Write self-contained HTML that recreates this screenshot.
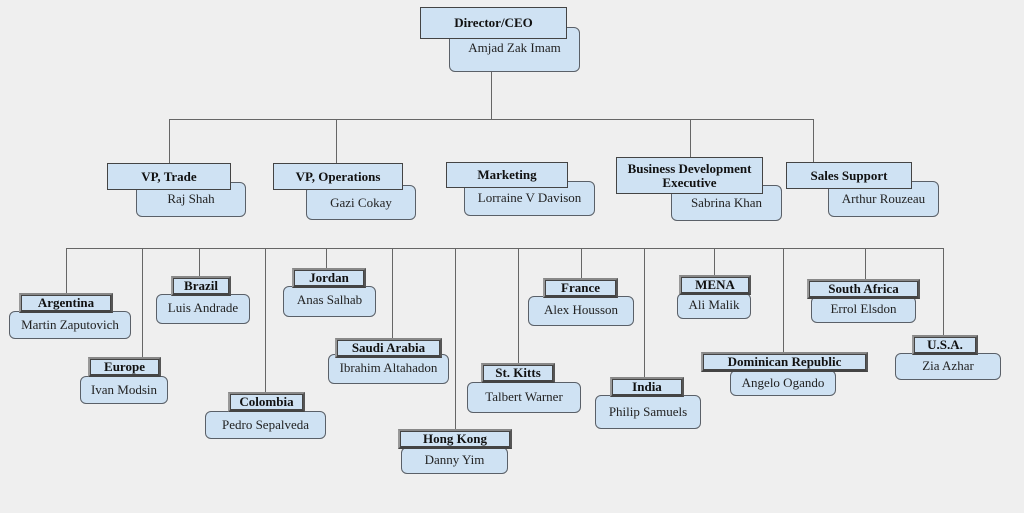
<!DOCTYPE html>
<html><head><meta charset="utf-8"><style>
body{margin:0;width:1024px;height:513px;background:#efefef;position:relative;overflow:hidden;font-family:"Liberation Serif",serif;}
.l{position:absolute;background:#666;}
.n{position:absolute;box-sizing:border-box;background:#cfe2f3;border:1.5px solid #5a6068;border-radius:6px;display:flex;align-items:flex-end;justify-content:center;font-size:13px;color:#222;}
.t{position:absolute;box-sizing:border-box;background:#cfe2f3;border:1.5px solid #444;display:flex;align-items:center;justify-content:center;font-weight:bold;font-size:13px;color:#111;text-align:center;line-height:14px;}
.c{border:2px solid #777;border-right-color:#555;border-bottom-color:#444;border-left-color:#999;border-top-color:#888;box-shadow:inset 0 0 0 1px #444;font-size:13px;}
</style></head><body>
<div class="l" style="left:491px;top:70px;width:1px;height:50px"></div>
<div class="l" style="left:169px;top:119px;width:645px;height:1px"></div>
<div class="l" style="left:169px;top:119px;width:1px;height:45px"></div>
<div class="l" style="left:336px;top:119px;width:1px;height:45px"></div>
<div class="l" style="left:690px;top:119px;width:1px;height:40px"></div>
<div class="l" style="left:813px;top:119px;width:1px;height:45px"></div>
<div class="l" style="left:66px;top:248px;width:878px;height:1px"></div>
<div class="l" style="left:66px;top:248px;width:1px;height:46px"></div>
<div class="l" style="left:142px;top:248px;width:1px;height:110px"></div>
<div class="l" style="left:199px;top:248px;width:1px;height:29px"></div>
<div class="l" style="left:265px;top:248px;width:1px;height:145px"></div>
<div class="l" style="left:326px;top:248px;width:1px;height:21px"></div>
<div class="l" style="left:392px;top:248px;width:1px;height:91px"></div>
<div class="l" style="left:455px;top:248px;width:1px;height:182px"></div>
<div class="l" style="left:518px;top:248px;width:1px;height:116px"></div>
<div class="l" style="left:581px;top:248px;width:1px;height:31px"></div>
<div class="l" style="left:644px;top:248px;width:1px;height:130px"></div>
<div class="l" style="left:714px;top:248px;width:1px;height:28px"></div>
<div class="l" style="left:783px;top:248px;width:1px;height:105px"></div>
<div class="l" style="left:865px;top:248px;width:1px;height:31px"></div>
<div class="l" style="left:943px;top:248px;width:1px;height:88px"></div>

<div class="n" style="left:449px;top:27px;width:131px;height:45px;padding-bottom:15px">Amjad Zak Imam</div>
<div class="t" style="left:420px;top:7px;width:147px;height:32px">Director/CEO</div>

<div class="n" style="left:136px;top:182px;width:110px;height:35px;padding-bottom:9px">Raj Shah</div>
<div class="t" style="left:107px;top:163px;width:124px;height:27px">VP, Trade</div>
<div class="n" style="left:306px;top:185px;width:110px;height:35px;padding-bottom:8px">Gazi Cokay</div>
<div class="t" style="left:273px;top:163px;width:130px;height:27px">VP, Operations</div>
<div class="n" style="left:464px;top:181px;width:131px;height:35px;padding-bottom:9px">Lorraine V Davison</div>
<div class="t" style="left:446px;top:162px;width:122px;height:26px">Marketing</div>
<div class="n" style="left:671px;top:185px;width:111px;height:36px;padding-bottom:9px">Sabrina Khan</div>
<div class="t" style="left:616px;top:157px;width:147px;height:37px">Business Development<br>Executive</div>
<div class="n" style="left:828px;top:181px;width:111px;height:36px;padding-bottom:9px">Arthur Rouzeau</div>
<div class="t" style="left:786px;top:162px;width:126px;height:27px">Sales Support</div>

<div class="n" style="left:9px;top:311px;width:122px;height:28px;padding-bottom:5px">Martin Zaputovich</div>
<div class="t c" style="left:19px;top:293px;width:94px;height:20px">Argentina</div>
<div class="n" style="left:80px;top:376px;width:88px;height:28px;padding-bottom:5px">Ivan Modsin</div>
<div class="t c" style="left:88px;top:357px;width:73px;height:20px">Europe</div>
<div class="n" style="left:156px;top:294px;width:94px;height:30px;padding-bottom:7px">Luis Andrade</div>
<div class="t c" style="left:171px;top:276px;width:60px;height:20px">Brazil</div>
<div class="n" style="left:205px;top:411px;width:121px;height:28px;padding-bottom:5px">Pedro Sepalveda</div>
<div class="t c" style="left:228px;top:392px;width:77px;height:20px">Colombia</div>
<div class="n" style="left:283px;top:286px;width:93px;height:31px;padding-bottom:8px">Anas Salhab</div>
<div class="t c" style="left:292px;top:268px;width:74px;height:20px">Jordan</div>
<div class="n" style="left:328px;top:354px;width:121px;height:30px;padding-bottom:7px">Ibrahim Altahadon</div>
<div class="t c" style="left:335px;top:338px;width:107px;height:20px">Saudi Arabia</div>
<div class="n" style="left:401px;top:447px;width:107px;height:27px;padding-bottom:5px">Danny Yim</div>
<div class="t c" style="left:398px;top:429px;width:114px;height:20px">Hong Kong</div>
<div class="n" style="left:467px;top:382px;width:114px;height:31px;padding-bottom:7px">Talbert Warner</div>
<div class="t c" style="left:481px;top:363px;width:74px;height:20px">St. Kitts</div>
<div class="n" style="left:528px;top:296px;width:106px;height:30px;padding-bottom:7px">Alex Housson</div>
<div class="t c" style="left:543px;top:278px;width:75px;height:20px">France</div>
<div class="n" style="left:595px;top:395px;width:106px;height:34px;padding-bottom:8px">Philip Samuels</div>
<div class="t c" style="left:610px;top:377px;width:74px;height:20px">India</div>
<div class="n" style="left:677px;top:293px;width:74px;height:26px;padding-bottom:5px">Ali Malik</div>
<div class="t c" style="left:679px;top:275px;width:72px;height:20px">MENA</div>
<div class="n" style="left:730px;top:370px;width:106px;height:26px;padding-bottom:4px">Angelo Ogando</div>
<div class="t c" style="left:701px;top:352px;width:167px;height:20px">Dominican Republic</div>
<div class="n" style="left:811px;top:296px;width:105px;height:27px;padding-bottom:5px">Errol Elsdon</div>
<div class="t c" style="left:807px;top:279px;width:113px;height:20px">South Africa</div>
<div class="n" style="left:895px;top:353px;width:106px;height:27px;padding-bottom:5px">Zia Azhar</div>
<div class="t c" style="left:912px;top:335px;width:66px;height:20px">U.S.A.</div>
</body></html>
